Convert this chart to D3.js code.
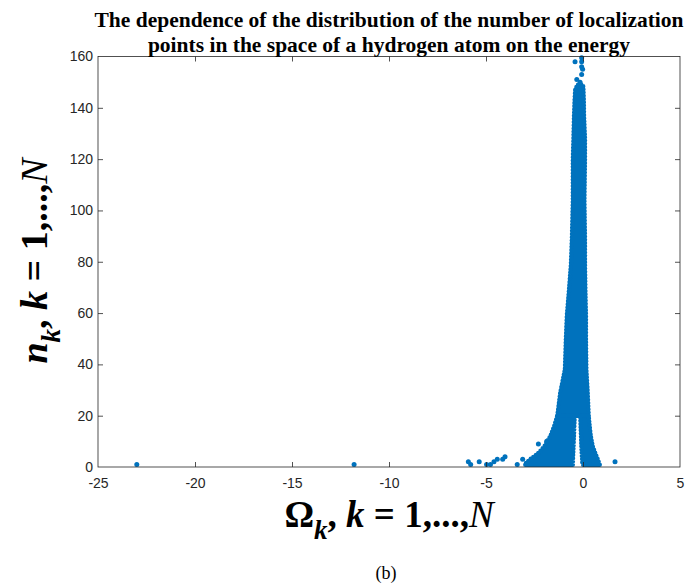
<!DOCTYPE html>
<html>
<head>
<meta charset="utf-8">
<script src="https://cdn.jsdelivr.net/npm/d3@7/dist/d3.min.js"></script>
<style>
  html, body { margin: 0; padding: 0; background: #fff; }
  svg { display: block; }
</style>
</head>
<body>
<svg id="chart" width="687" height="588"></svg>
<script>
// Axis ticks
const xTicks = [-25, -20, -15, -10, -5, 0, 5];
const yTicks = [0, 20, 40, 60, 80, 100, 120, 140, 160];

// Dense core of the point cloud: left / right extent of the points at each level n
const coreN     = [20, 29, 38, 50, 59, 69, 79, 89, 104, 120, 128, 137, 143, 147, 149];
const coreLeft  = [-1.32, -1.17, -0.93, -0.88, -0.83, -0.72, -0.62, -0.57, -0.52, -0.52, -0.49, -0.46, -0.43, -0.40, -0.28];
const coreRight = [0.29, 0.24, 0.17, 0.15, 0.15, 0.12, 0.10, 0.10, 0.07, 0.10, 0.10, 0.05, 0.04, 0.02, 0.00];

// Low-n part of the cloud splits into two lobes
const lobeN          = [0.9, 3, 5, 8, 12, 16, 20];
const leftLobeLeft   = [-3.02, -2.72, -2.35, -1.99, -1.68, -1.48, -1.32];
const leftLobeRight  = [-0.53, -0.52, -0.51, -0.49, -0.47, -0.45, -0.43];
const rightLobeLeft  = [-0.03, -0.04, -0.06, -0.08, -0.10, -0.12, -0.14];
const rightLobeRight = [0.86, 0.76, 0.65, 0.50, 0.40, 0.34, 0.29];

// Isolated points outside the dense cloud
const ptOmega = [-23.0, -11.8, -5.91, -5.79, -5.35, -4.97, -4.77, -4.59, -4.42, -4.14, -4.02, -3.39, -3.11, -2.30, -1.87, 1.65,
                 -0.41, -0.07, -0.07, -0.07, -0.02, -0.07, -0.32, -0.15];
const ptN     = [1, 1, 2, 1, 2, 1, 1, 2, 3, 3, 4, 1, 3, 9, 10, 2,
                 158, 159.5, 158, 156, 155, 153, 151, 150];

const color = "#0072BD";
const svg = d3.select("#chart");
svg.append("rect").attr("width", 687).attr("height", 588).attr("fill", "#fff");

const plotLeft = 98, plotRight = 680, plotTop = 56.5, plotBottom = 467;
const x = d3.scaleLinear().domain([-25, 5]).range([plotLeft, plotRight]);
const y = d3.scaleLinear().domain([0, 160]).range([plotBottom, plotTop]);

// Cloud areas; the outline is a chain of round dots so the edge looks like overlapping markers
function band(ns, lo, hi) {
  return ns.map((n, i) => ({ n, lo: lo[i], hi: hi[i] }));
}
const areaH = d3.area()
  .y(d => y(d.n))
  .x0(d => x(d.lo))
  .x1(d => x(d.hi))
  .curve(d3.curveLinear);

const cloud = svg.append("g");
[band(coreN, coreLeft, coreRight),
 band(lobeN, leftLobeLeft, leftLobeRight),
 band(lobeN, rightLobeLeft, rightLobeRight)].forEach(b => {
  cloud.append("path")
    .attr("d", areaH(b))
    .attr("fill", color)
    .attr("stroke", color)
    .attr("stroke-width", 4.6)
    .attr("stroke-linecap", "round")
    .attr("stroke-dasharray", "0 3.2");
});

// Scattered points
cloud.selectAll("circle")
  .data(ptOmega.map((v, i) => ({ v, n: ptN[i] })))
  .join("circle")
  .attr("cx", d => x(d.v))
  .attr("cy", d => y(d.n))
  .attr("r", 2.5)
  .attr("fill", color);

// Axes: ticks pointing inward, on all four sides
const axisColor = "#262626";
const tickFont = "'Liberation Sans', Arial, sans-serif";
const plain = d => String(d);

const gx = svg.append("g").attr("transform", `translate(0,${plotBottom})`)
  .call(d3.axisBottom(x).tickValues(xTicks).tickFormat(plain).tickSizeInner(-5).tickSizeOuter(0).tickPadding(11));
const gxTop = svg.append("g").attr("transform", `translate(0,${plotTop})`)
  .call(d3.axisTop(x).tickValues(xTicks).tickSizeInner(-5).tickSizeOuter(0).tickFormat(""));
const gy = svg.append("g").attr("transform", `translate(${plotLeft},0)`)
  .call(d3.axisLeft(y).tickValues(yTicks).tickFormat(plain).tickSizeInner(-5).tickSizeOuter(0).tickPadding(5));
const gyRight = svg.append("g").attr("transform", `translate(${plotRight},0)`)
  .call(d3.axisRight(y).tickValues(yTicks).tickSizeInner(-5).tickSizeOuter(0).tickFormat(""));

[gx, gxTop, gy, gyRight].forEach(g => {
  g.select(".domain").remove();
  g.selectAll(".tick line").attr("stroke", axisColor).attr("stroke-width", 0.8);
  g.selectAll(".tick text")
    .attr("fill", axisColor)
    .style("font-family", tickFont)
    .style("font-size", "14px");
});
// end ticks coincide with the box edges
[gx, gxTop].forEach(g => g.selectAll(".tick").filter(d => d === -25 || d === 5).select("line").remove());
[gy, gyRight].forEach(g => g.selectAll(".tick").filter(d => d === 0 || d === 160).select("line").remove());

svg.append("rect")
  .attr("x", plotLeft).attr("y", plotTop)
  .attr("width", plotRight - plotLeft).attr("height", plotBottom - plotTop)
  .attr("fill", "none")
  .attr("stroke", axisColor)
  .attr("stroke-width", 0.8);

// Title
const serif = "'Liberation Serif', 'Times New Roman', serif";
const title = svg.append("text")
  .attr("text-anchor", "middle")
  .style("font-family", serif)
  .style("font-weight", "bold")
  .style("font-size", "21.5px")
  .attr("fill", "#000");
title.append("tspan").attr("x", 389).attr("y", 27)
  .text("The dependence of the distribution of the number of localization");
title.append("tspan").attr("x", 389).attr("y", 52)
  .text("points in the space of a hydrogen atom on the energy");

// Axis labels with subscript k
function axisLabel(sel, symbol, symbolItalic, size) {
  sel.attr("text-anchor", "middle")
    .style("font-family", serif)
    .style("font-size", size + "px")
    .style("font-weight", "bold")
    .attr("fill", "#000");
  const sub = Math.round(size * 0.33);
  sel.append("tspan").style("font-style", symbolItalic ? "italic" : "normal").text(symbol);
  sel.append("tspan").style("font-style", "italic").style("font-size", Math.round(size * 0.72) + "px").attr("dy", sub).text("k");
  sel.append("tspan").attr("dy", -sub).text(", ");
  sel.append("tspan").style("font-style", "italic").text("k");
  sel.append("tspan").text(" = 1,...,");
  sel.append("tspan").style("font-style", "italic").style("font-weight", "normal").text("N");
}

const yLab = svg.append("text")
  .attr("transform", "translate(47,261) rotate(-90)");
axisLabel(yLab, "n", true, 38);

const xLab = svg.append("text")
  .attr("x", 389).attr("y", 527);
axisLabel(xLab, "\u03A9", false, 37);

// Panel tag
svg.append("text")
  .attr("x", 386).attr("y", 579)
  .attr("text-anchor", "middle")
  .style("font-family", serif)
  .style("font-size", "18px")
  .attr("fill", "#000")
  .text("(b)");
</script>
</body>
</html>
